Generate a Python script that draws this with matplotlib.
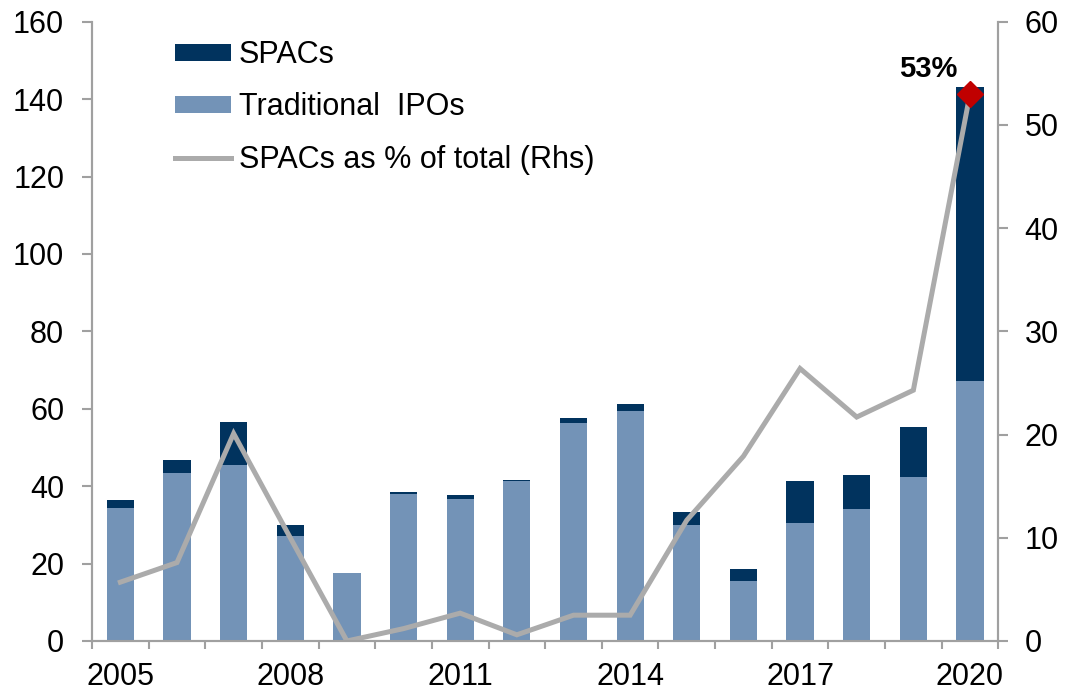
import matplotlib.pyplot as plt
import numpy as np

plt.rcParams['font.family'] = ['Liberation Sans', 'DejaVu Sans']

years = list(range(2005, 2021))
traditional_ipos = [34.4, 43.5, 45.5, 27.1, 17.5, 38.1, 36.7, 41.4, 56.3, 59.5, 30.0, 15.6, 30.6, 34.0, 42.3, 67.2]
spacs = [2.0, 3.3, 11.0, 3.0, 0.0, 0.3, 1.0, 0.2, 1.3, 1.7, 3.3, 3.0, 10.8, 9.0, 12.9, 76.0]
spac_share = [5.7, 7.6, 20.1, 10.0, 0.0, 1.2, 2.7, 0.6, 2.5, 2.5, 11.7, 17.9, 26.4, 21.7, 24.3, 53.0]
tick_years = [2005, 2008, 2011, 2014, 2017, 2020]

navy = '#01335E'
steel = '#7393B7'
grey_line = '#ABABAB'
axis_grey = '#A0A0A0'

fig = plt.figure(figsize=(10.7, 6.95), dpi=100)
ax = fig.add_axes([0.086, 0.0777, 0.847, 0.891])
ax2 = ax.twinx()

x = np.arange(len(years))
w = 0.48
ax.bar(x, traditional_ipos, width=w, color=steel, label='Traditional  IPOs', zorder=2)
ax.bar(x, spacs, width=w, bottom=traditional_ipos, color=navy, label='SPACs', zorder=2)

ax2.plot(x, spac_share, color=grey_line, linewidth=3.6, solid_joinstyle='miter',
         label='SPACs as % of total (Rhs)')
ax2.plot(x[-1], spac_share[-1], marker='D', markersize=13, color='#C00000', zorder=5)
ax2.annotate(f'{spac_share[-1]:.0f}%', xy=(x[-1], spac_share[-1]), xytext=(-9, 8),
             textcoords='offset points', ha='right', va='bottom',
             fontsize=21, fontweight='bold')

ax.set_xlim(-0.5, len(years) - 0.5)
ax.set_ylim(0, 160)
ax2.set_ylim(0, 60)
ax.set_yticks(range(0, 161, 20))
ax2.set_yticks(range(0, 61, 10))

ax.set_xticks([years.index(y) for y in tick_years])
ax.set_xticklabels([str(y) for y in tick_years])
ax.set_xticks(np.arange(-0.5, len(years)), minor=True)
ax.tick_params(axis='x', which='major', length=0, pad=15, labelsize=22)
ax.tick_params(axis='x', which='minor', length=6, width=1.5, color=axis_grey, direction='out')
ax.tick_params(axis='y', length=7, width=1.5, color=axis_grey, labelsize=22, pad=13)
ax2.tick_params(axis='y', length=7, width=1.5, color=axis_grey, labelsize=22, pad=12)

for a in (ax, ax2):
    a.spines['top'].set_visible(False)
    for s in ('left', 'right', 'bottom'):
        a.spines[s].set_color(axis_grey)
        a.spines[s].set_linewidth(1.5)

h1, l1 = ax.get_legend_handles_labels()
h2, l2 = ax2.get_legend_handles_labels()
handles = [h1[1], h1[0], h2[0]]
labels = [l1[1], l1[0], l2[0]]
ax.legend(handles, labels, loc='upper left', bbox_to_anchor=(0.071, 1.0), frameon=False,
          fontsize=22, handlelength=1.85, handleheight=0.5, handletextpad=0.25,
          labelspacing=0.73, borderaxespad=0.2)

fig.savefig('out.png', dpi=100, facecolor='white')
